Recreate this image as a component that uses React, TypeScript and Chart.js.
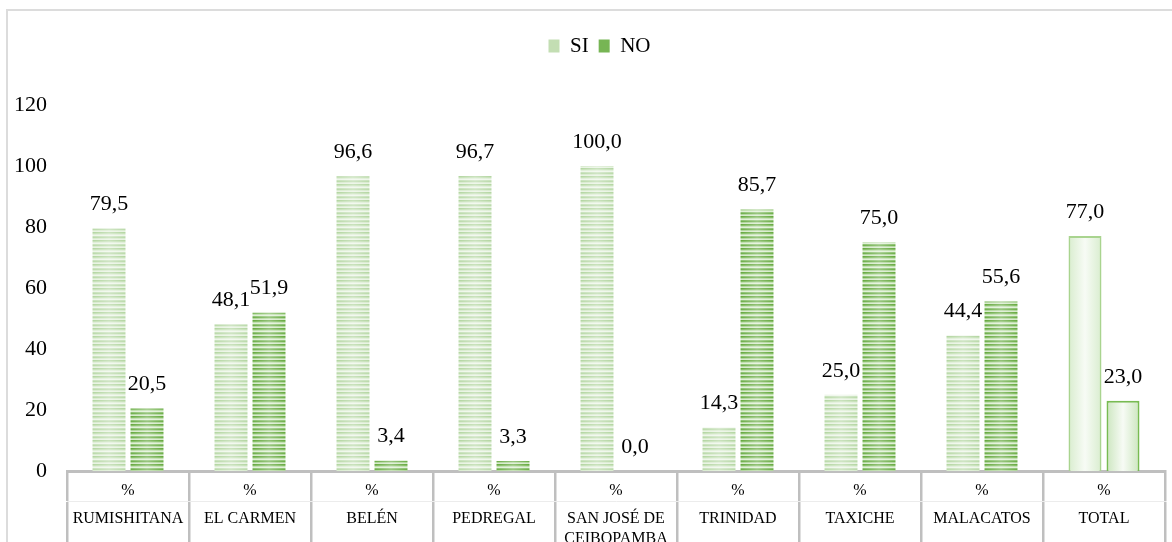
import React, { useEffect, useRef } from 'react';
import { Chart, registerables } from 'chart.js';

Chart.register(...registerables);

const categories = ['RUMISHITANA', 'EL CARMEN', 'BELÉN', 'PEDREGAL', 'SAN JOSÉ DE CEIBOPAMBA', 'TRINIDAD', 'TAXICHE', 'MALACATOS', 'TOTAL'];
const categoryLines = [['RUMISHITANA'], ['EL CARMEN'], ['BELÉN'], ['PEDREGAL'], ['SAN JOSÉ DE', 'CEIBOPAMBA'], ['TRINIDAD'], ['TAXICHE'], ['MALACATOS'], ['TOTAL']];
const unitLabel = '%';
const seriesNames = ['SI', 'NO'];
const siValues = [79.5, 48.1, 96.6, 96.7, 100.0, 14.3, 25.0, 44.4, 77.0];
const noValues = [20.5, 51.9, 3.4, 3.3, 0.0, 85.7, 75.0, 55.6, 23.0];
const yTicks = [0, 20, 40, 60, 80, 100, 120];

const FONT = '"Liberation Serif", "Times New Roman", serif';

const SI_ROWS = ['#b4d6a2', '#c6e1b8', '#dfeed7', '#eef6ea', '#c9e2bc', '#bbdaab', '#d9ebcf', '#e8f3e2'];
const NO_ROWS = ['#66a93f', '#82bc62', '#bedeac', '#dfefd6', '#8cc270', '#6eae4a', '#b0d69b', '#d6eacb'];
const LEGEND_COLORS = ['#c3deb3', '#77b554'];
const TOTAL_BORDERS = ['#a9d48f', '#78bb52'];
const TOTAL_EDGES = ['#d9edcf', '#cce6bf'];

function stripePattern(ctx: CanvasRenderingContext2D, width: number, left: number, rows: string[]) {
  const c = document.createElement('canvas');
  c.width = Math.max(1, Math.round(width));
  c.height = rows.length;
  const g = c.getContext('2d')!;
  rows.forEach((col, i) => {
    g.fillStyle = col;
    g.fillRect(0, i, c.width, 1);
  });
  const grad = g.createLinearGradient(0, 0, c.width, 0);
  grad.addColorStop(0, 'rgba(255,255,255,0)');
  grad.addColorStop(0.5, 'rgba(255,255,255,0.3)');
  grad.addColorStop(1, 'rgba(255,255,255,0)');
  g.fillStyle = grad;
  g.fillRect(0, 0, c.width, c.height);
  const p = ctx.createPattern(c, 'repeat')!;
  p.setTransform(new DOMMatrix().translate(left, 0));
  return p;
}

const valueLabels = {
  id: 'valueLabels',
  afterDatasetsDraw(chart: any) {
    const ctx = chart.ctx;
    ctx.save();
    ctx.font = `22px ${FONT}`;
    ctx.fillStyle = '#000';
    ctx.textAlign = 'center';
    ctx.textBaseline = 'middle';
    chart.data.datasets.forEach((ds: any, di: number) => {
      const meta = chart.getDatasetMeta(di);
      meta.data.forEach((el: any, j: number) => {
        const v = ds.data[j] as number;
        ctx.fillText(v.toFixed(1).replace('.', ','), el.x, el.y - 24);
      });
    });
    ctx.restore();
  },
};

const legendShift = {
  id: 'legendShift',
  afterLayout(chart: any) {
    const lg = chart.legend;
    if (lg) {
      lg.left += 17;
      lg.right += 17;
    }
  },
};

export default function App() {
  const ref = useRef<HTMLCanvasElement>(null);

  useEffect(() => {
    const canvas = ref.current!;
    const n = categories.length;
    const chart = new Chart(canvas, {
      type: 'bar',
      data: {
        labels: categories,
        datasets: [
          {
            label: seriesNames[0],
            data: siValues,
            backgroundColor: LEGEND_COLORS[0],
            borderColor: categories.map((_, i) => (i === n - 1 ? TOTAL_BORDERS[0] : 'rgba(0,0,0,0)')),
            borderWidth: categories.map((_, i) => (i === n - 1 ? 2 : 0)),
            categoryPercentage: 0.623,
            barPercentage: 0.868,
          },
          {
            label: seriesNames[1],
            data: noValues,
            backgroundColor: LEGEND_COLORS[1],
            borderColor: categories.map((_, i) => (i === n - 1 ? TOTAL_BORDERS[1] : 'rgba(0,0,0,0)')),
            borderWidth: categories.map((_, i) => (i === n - 1 ? 2 : 0)),
            categoryPercentage: 0.623,
            barPercentage: 0.868,
          },
        ],
      },
      options: {
        responsive: false,
        maintainAspectRatio: false,
        devicePixelRatio: 1,
        animation: false,
        events: [],
        layout: { padding: { top: 25.5, left: 0, right: 7, bottom: 0 } },
        plugins: {
          tooltip: { enabled: false },
          legend: {
            display: true,
            position: 'top',
            labels: {
              font: { family: FONT, size: 21 },
              color: '#000',
              boxWidth: 11,
              boxHeight: 13,
              padding: 10,
              generateLabels: () =>
                seriesNames.map((name, i) => ({
                  text: name,
                  fillStyle: LEGEND_COLORS[i],
                  strokeStyle: 'rgba(0,0,0,0)',
                  lineWidth: 0,
                  hidden: false,
                  datasetIndex: i,
                  fontColor: '#000',
                })),
            },
          },
        },
        scales: {
          x: {
            type: 'category',
            position: 'bottom',
            weight: 0,
            offset: true,
            grid: {
              display: true,
              offset: true,
              drawOnChartArea: false,
              drawTicks: true,
              tickLength: 30,
              color: '#bfbfbf',
              lineWidth: 2.5,
            },
            border: { display: true, color: '#bfbfbf', width: 3 },
            ticks: {
              autoSkip: false,
              maxRotation: 0,
              minRotation: 0,
              padding: -20,
              color: '#000',
              font: { family: FONT, size: 16, lineHeight: 1.2 },
              callback: () => unitLabel,
            },
            afterFit: (s: any) => {
              s.height = 30;
            },
          },
          x2: {
            type: 'category',
            position: 'bottom',
            weight: 1,
            labels: categoryLines as any,
            offset: true,
            grid: {
              display: true,
              offset: true,
              drawOnChartArea: false,
              drawTicks: true,
              tickLength: 60,
              color: '#bfbfbf',
              lineWidth: 2.5,
            },
            border: { display: true, color: '#ececec', width: 1 },
            ticks: {
              autoSkip: false,
              maxRotation: 0,
              minRotation: 0,
              padding: -52,
              color: '#000',
              font: { family: FONT, size: 16, lineHeight: 20 / 16 },
            },
            afterFit: (s: any) => {
              s.height = 59;
            },
          },
          y: {
            min: 0,
            max: 132.6,
            grid: { display: false, drawTicks: false },
            border: { display: false },
            ticks: {
              stepSize: 20,
              includeBounds: false,
              padding: 20,
              color: '#000',
              font: { family: FONT, size: 22 },
              callback: (v: any) => (yTicks.includes(Number(v)) ? String(v) : ''),
            },
            afterFit: (s: any) => {
              s.width = 67;
            },
          },
        },
      } as any,
      plugins: [valueLabels, legendShift],
    });

    const ctx = canvas.getContext('2d')!;
    [0, 1].forEach((di) => {
      const meta = chart.getDatasetMeta(di);
      const rows = di === 0 ? SI_ROWS : NO_ROWS;
      const bg = meta.data.map((el: any, j: number) => {
        const { x, width } = el.getProps(['x', 'width'], true);
        const left = x - width / 2;
        if (j === n - 1) {
          const g = ctx.createLinearGradient(left, 0, left + width, 0);
          g.addColorStop(0, TOTAL_EDGES[di]);
          g.addColorStop(0.5, '#f7fbf5');
          g.addColorStop(1, TOTAL_EDGES[di]);
          return g;
        }
        return stripePattern(ctx, width, left, rows);
      });
      (chart.data.datasets[di] as any).backgroundColor = bg;
    });
    chart.update();

    return () => chart.destroy();
  }, []);

  return (
    <div style={{ position: 'fixed', left: 0, top: 0, width: '100vw', height: '100vh', overflow: 'hidden', background: '#fff' }}>
      <div style={{ position: 'absolute', left: 6, top: 9, width: 1400, height: 800, border: '2px solid #dcdcdc' }} />
      <canvas ref={ref} width={1172} height={560} style={{ position: 'absolute', left: 0, top: 0, width: 1172, height: 560 }} />
    </div>
  );
}
